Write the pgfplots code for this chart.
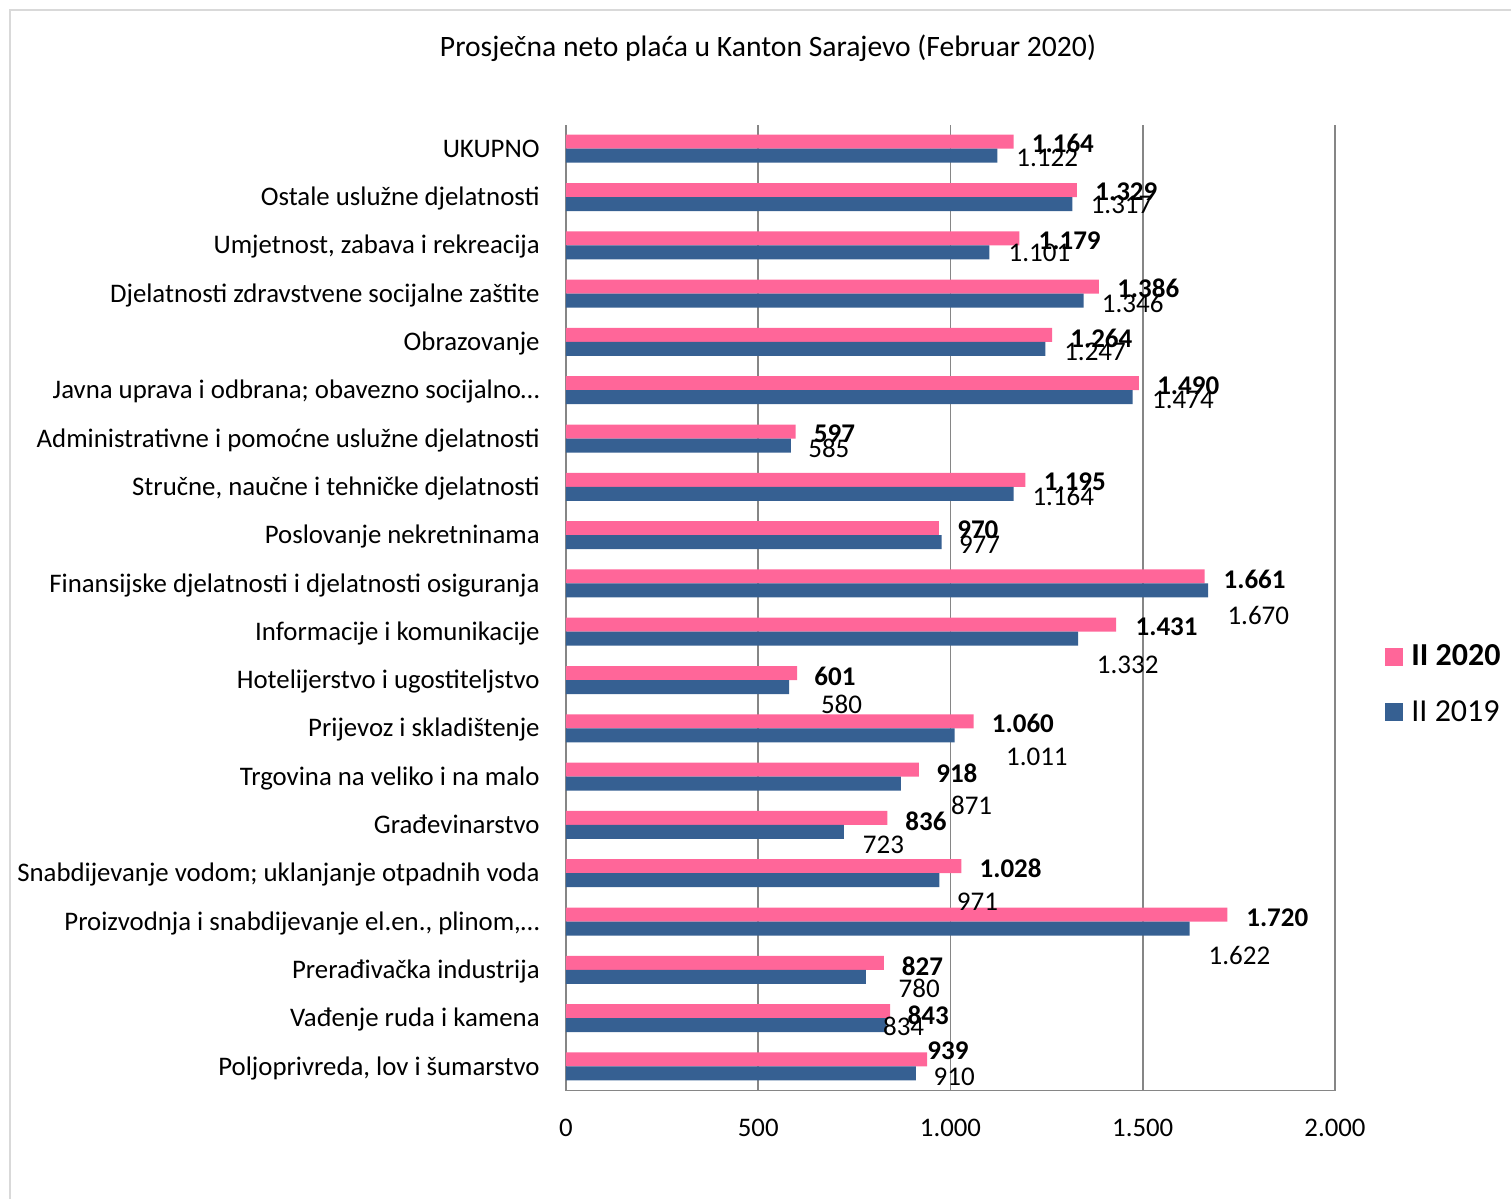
\documentclass[border=0pt]{standalone}
\usepackage{pgfplots}
\usepackage{pgfplotstable}
\usepackage{fontspec}
\setmainfont{Carlito}
\pgfplotsset{compat=1.18}
\definecolor{pinkbar}{RGB}{255,102,153}
\definecolor{bluebar}{RGB}{54,96,146}
\definecolor{gridgray}{RGB}{134,134,134}
\definecolor{framegray}{RGB}{217,217,217}

% II 2020: y position, value, label offsets (pt)
\pgfplotstableread{
y v dx dy
19 1164 9 -1
18 1329 9 -1
17 1179 9.5 -1
16 1386 9 -1
15 1264 9 -1.5
14 1490 9 -1
13 597 9 -1
12 1195 9 -1
11 970 9 -1
10 1661 9.3 -1.3
9 1431 9.5 -1.2
8 601 8.5 -1.8
7 1060 9 -1
6 918 8.5 -1.8
5 836 8.8 -1.5
4 1028 9 -1
3 1720 9.3 -1.6
2 827 8.8 -1.5
1 843 8.6 -2
0 939 0 4.2
}\dataA

% II 2019
\pgfplotstableread{
y v dx dy
19 1122 9.3 -1.3
18 1317 9 -0.5
17 1101 9.5 -0.5
16 1346 9 -1.4
15 1247 9.2 -1.5
14 1474 9.5 -1.4
13 585 8.5 -1.5
12 1164 9.3 -1.5
11 977 8.5 -1.5
10 1670 9.5 -12.6
9 1332 9.2 -13.2
8 580 15.8 -8.5
7 1011 25.5 -10.7
6 871 24.9 -10.7
5 723 9.3 -6.2
4 971 8.6 -10.7
3 1622 9.3 -13.6
2 780 16.2 -5.8
1 834 -2 -0.8
0 910 8.7 -1.6
}\dataB

\begin{document}
\begin{tikzpicture}[font=\fontsize{13.4}{16}\selectfont]
\path[use as bounding box] (-283pt,-54.2pt) rectangle (472.5pt,545.3pt);
\draw[framegray, line width=1pt] (-278pt,-60pt) -- (-278pt,540.3pt) -- (480pt,540.3pt);
\begin{axis}[
  scale only axis, width=384.5pt, height=483pt,
  xbar, bar width=7pt,
  xmin=0, xmax=2000, ymin=-0.5, ymax=19.5,
  enlargelimits=false,
  axis lines*=left,
  axis line style={-, draw=gridgray, line width=0.8pt},
  xmajorgrids, grid style={gridgray, line width=0.8pt},
  major tick length=0pt,
  xtick={0,500,1000,1500,2000},
  ytick={0,...,19},
  yticklabels={{Poljoprivreda, lov i šumarstvo},{Vađenje ruda i kamena},{Prerađivačka industrija},{Proizvodnja i snabdijevanje el.en., plinom,…},{Snabdijevanje vodom; uklanjanje otpadnih voda},{Građevinarstvo},{Trgovina na veliko i na malo},{Prijevoz i skladištenje},{Hotelijerstvo i ugostiteljstvo},{Informacije i komunikacije},{Finansijske djelatnosti i djelatnosti osiguranja},{Poslovanje nekretninama},{Stručne, naučne i tehničke djelatnosti},{Administrativne i pomoćne uslužne djelatnosti},{Javna uprava i odbrana; obavezno socijalno…},{Obrazovanje},{Djelatnosti zdravstvene socijalne zaštite},{Umjetnost, zabava i rekreacija},{Ostale uslužne djelatnosti},{UKUPNO}},
  /pgf/number format/.cd, 1000 sep={.}, assume math mode=true, /pgfplots/.cd,
  xticklabel style={anchor=north, inner sep=0pt, yshift=-14pt},
  yticklabel style={anchor=base east, inner sep=0pt, xshift=-13pt, yshift=-4.3pt},
  every axis title shift=0pt,
  title={Prosječna neto plaća u Kanton Sarajevo (Februar 2020)},
  title style={at={(axis description cs:0.2627,1.071)}, anchor=base, inner sep=0pt, font=\fontsize{14.8}{17.5}\selectfont},
  legend style={draw=none, fill=none, at={(axis description cs:1,0.4204)}, anchor=west, xshift=25pt,
    font=\fontsize{16}{19}\selectfont, row sep=11.8pt, inner sep=0pt,
    /tikz/every odd column/.append style={column sep=2pt}},
  legend cell align=left,
  legend image code/.code={\fill[#1] (0pt,-4.5pt) rectangle (9pt,4.5pt);},
]
\addplot[xbar, fill=pinkbar, draw=none, bar shift=3.5pt,
  point meta=x, nodes near coords,
  visualization depends on={\thisrow{dx} \as \ldx},
  visualization depends on={\thisrow{dy} \as \ldy},
  nodes near coords style={font=\bfseries\fontsize{13.5}{16}\selectfont, text=black, anchor=west, inner sep=0pt, xshift=\ldx pt, yshift=\ldy pt}
] table[x=v, y=y] {\dataA};
\addplot[xbar, fill=bluebar, draw=none, bar shift=-3.5pt,
  point meta=x, nodes near coords,
  visualization depends on={\thisrow{dx} \as \ldx},
  visualization depends on={\thisrow{dy} \as \ldy},
  nodes near coords style={font=\fontsize{13.5}{16}\selectfont, text=black, anchor=west, inner sep=0pt, xshift=\ldx pt, yshift=\ldy pt}
] table[x=v, y=y] {\dataB};
\legend{\textbf{II 2020}, II 2019}
\end{axis}
\end{tikzpicture}
\end{document}
